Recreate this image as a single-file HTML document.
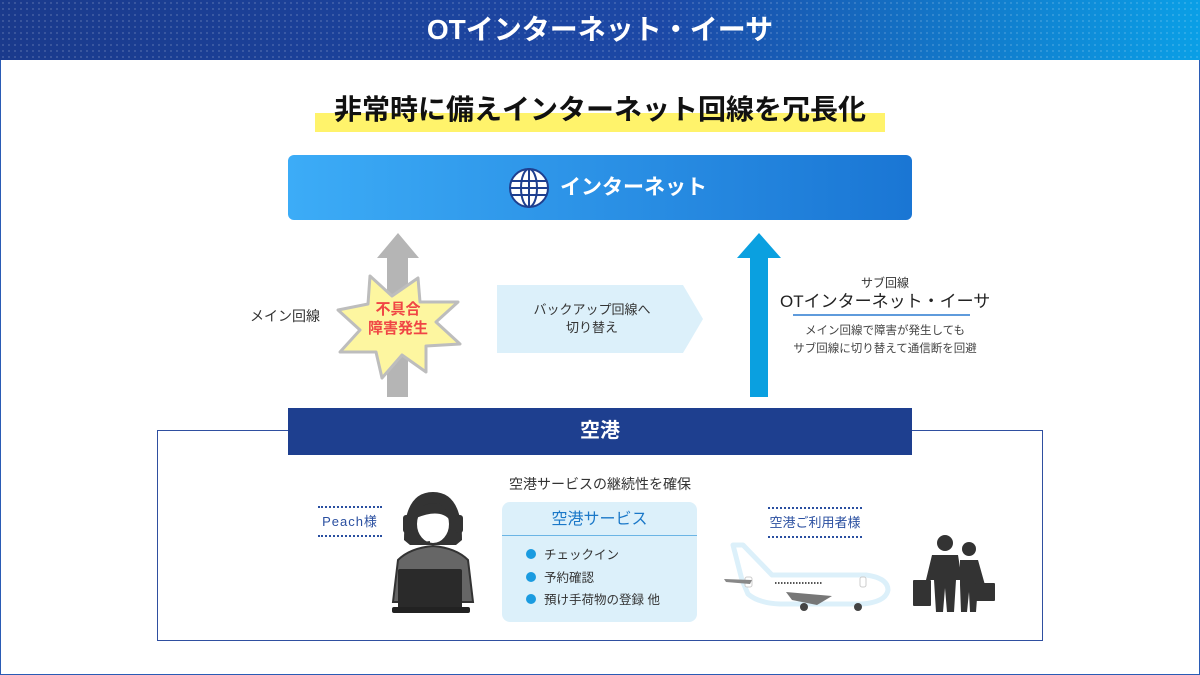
<!DOCTYPE html>
<html><head><meta charset="utf-8"><style>
*{margin:0;padding:0;box-sizing:border-box}
body{width:1200px;height:675px;position:relative;background:#fff;font-family:"Liberation Sans","Noto Sans CJK JP",sans-serif;overflow:hidden;color:#333}
.a{position:absolute}
.frame{left:0;top:0;width:1200px;height:675px;border:1px solid #2a5bb5}
.hdr{left:0;top:0;width:1200px;height:60px;background:linear-gradient(90deg,#1a3a8c 0%,#1c48a6 55%,#0a9fe6 100%);color:#fff;font-size:28px;font-weight:bold;text-align:center;line-height:60px}
.dots{left:0;top:0;width:1200px;height:60px;background-image:radial-gradient(rgba(255,255,255,.18) 0.8px,transparent 1px);background-size:6px 6px}
.c{text-align:center;white-space:nowrap}
</style></head><body>
<div class="a frame"></div>
<div class="a hdr"></div><div class="a dots"></div>
<div class="a hdr" style="background:none">OTインターネット・イーサ</div>

<div class="a" style="left:315px;top:113px;width:570px;height:19px;background:#fff36b"></div>
<div class="a c" style="left:0;width:1200px;top:90px;font-size:28px;font-weight:bold;color:#111;line-height:40px">非常時に備えインターネット回線を冗長化</div>

<div class="a" style="left:288px;top:155px;width:624px;height:65px;border-radius:6px;background:linear-gradient(90deg,#3cacf7,#1a76d4)"></div>
<svg class="a" style="left:508px;top:167px" width="42" height="42" viewBox="0 0 42 42"><circle cx="21" cy="21" r="19" fill="#fff" stroke="#1e3f8f" stroke-width="2"/><ellipse cx="21" cy="21" rx="8" ry="19" fill="none" stroke="#1e3f8f" stroke-width="2"/><line x1="21" y1="2" x2="21" y2="40" stroke="#1e3f8f" stroke-width="2"/><line x1="3" y1="14" x2="39" y2="14" stroke="#1e3f8f" stroke-width="2"/><line x1="3" y1="28" x2="39" y2="28" stroke="#1e3f8f" stroke-width="2"/><line x1="2" y1="21" x2="40" y2="21" stroke="#1e3f8f" stroke-width="2"/></svg>
<div class="a" style="left:560px;top:174px;font-size:21px;font-weight:bold;color:#fff;line-height:28px">インターネット</div>

<svg class="a" style="left:0;top:0" width="1200" height="675">
<polygon points="387,258 377,258 398,233 419,258 408,258 408,397 387,397" fill="#b5b5b5"/>
<polygon points="737,258 759,233 781,258 768,258 768,397 750,397 750,258" fill="#0aa0e0"/>
<polygon points="497,285 683,285 703,319 683,353 497,353" fill="#dcf0fa"/>
<polygon points="370,276 392,296 418,278 420,302 458,302 436,322 460,344 426,346 426,372 402,355 382,378 376,352 340,352 360,330 338,310 368,304" fill="#fdf6a0" stroke="#bdbdbd" stroke-width="3" stroke-linejoin="round"/>
<line x1="793" y1="315" x2="970" y2="315" stroke="#2a7ad0" stroke-width="1.5"/>
</svg>
<div class="a c" style="left:358px;width:80px;top:300px;font-size:15px;font-weight:bold;color:#f04545;line-height:19px">不具合<br>障害発生</div>
<div class="a" style="left:250px;top:306px;font-size:14px;line-height:20px">メイン回線</div>
<div class="a c" style="left:497px;width:190px;top:301px;font-size:13px;line-height:18px">バックアップ回線へ<br>切り替え</div>
<div class="a c" style="left:780px;width:210px;top:275px;font-size:12px;line-height:16px">サブ回線</div>
<div class="a c" style="left:780px;width:210px;top:291px;font-size:17px;line-height:22px;color:#222">OTインターネット・イーサ</div>
<div class="a c" style="left:770px;width:230px;top:322px;font-size:11.5px;line-height:18px;color:#444">メイン回線で障害が発生しても<br>サブ回線に切り替えて通信断を回避</div>

<div class="a" style="left:157px;top:430px;width:886px;height:211px;border:1px solid #2f4fa0"></div>
<div class="a c" style="left:288px;top:408px;width:624px;height:47px;background:#1e3f8f;color:#fff;font-size:20px;font-weight:bold;line-height:47px">空港</div>

<div class="a c" style="left:450px;width:300px;top:474px;font-size:14px;line-height:20px">空港サービスの継続性を確保</div>
<div class="a" style="left:502px;top:502px;width:195px;height:120px;border-radius:8px;background:#dcf0fa"></div>
<div class="a c" style="left:502px;width:195px;top:509px;font-size:16px;color:#1a78c8;line-height:22px">空港サービス</div>
<div class="a" style="left:502px;top:535px;width:195px;height:1px;background:#6bb5e5"></div>
<div class="a" style="left:526px;top:544px;font-size:12.5px;line-height:22.5px">
<div><span style="display:inline-block;width:10px;height:10px;border-radius:50%;background:#1a9be0;margin-right:8px"></span>チェックイン</div>
<div><span style="display:inline-block;width:10px;height:10px;border-radius:50%;background:#1a9be0;margin-right:8px"></span>予約確認</div>
<div><span style="display:inline-block;width:10px;height:10px;border-radius:50%;background:#1a9be0;margin-right:8px"></span>預け手荷物の登録 他</div>
</div>

<div class="a c" style="left:318px;top:506px;width:64px;height:31px;border-top:2px dotted #2a4fa0;border-bottom:2px dotted #2a4fa0;font-size:13px;color:#2a4fa0;line-height:27px;letter-spacing:1px">Peach様</div>
<div class="a c" style="left:768px;top:507px;width:94px;height:31px;border-top:2px dotted #2a4fa0;border-bottom:2px dotted #2a4fa0;font-size:13px;color:#2a4fa0;line-height:27px">空港ご利用者様</div>

<svg class="a" style="left:0;top:0" width="1200" height="675">
<!-- operator -->
<path d="M404 540 Q404 492 433 492 Q462 492 462 540 L456 545 L410 545Z" fill="#333"/>
<ellipse cx="433" cy="524" rx="17" ry="20" fill="#fff" stroke="#333" stroke-width="2"/>
<path d="M416 518 Q420 500 440 504 Q448 510 450 520 Q440 508 416 518Z" fill="#333"/>
<rect x="403" y="515" width="8" height="18" rx="3" fill="#333"/><rect x="455" y="515" width="8" height="18" rx="3" fill="#333"/>
<path d="M410 530 Q415 545 430 542" stroke="#333" stroke-width="2" fill="none"/>
<path d="M393 602 L398 560 Q410 548 433 546 Q456 548 468 560 L473 602Z" fill="#666" stroke="#333" stroke-width="2"/>
<rect x="398" y="569" width="64" height="40" rx="2" fill="#2a2a2a"/>
<rect x="392" y="607" width="78" height="6" rx="2" fill="#222"/>
<!-- plane -->
<path d="M733 545 L743 545 L772 575 L866 575 Q888 578 888 590 Q886 602 862 604 L780 604 Q758 603 748 594 L742 580Z" fill="#fff" stroke="#dcf0fa" stroke-width="5" stroke-linejoin="round"/>
<rect x="745" y="577" width="7" height="10" rx="2" fill="#fff" stroke="#ccc"/>
<rect x="860" y="577" width="6" height="10" rx="2" fill="#fff" stroke="#ccc"/>
<path d="M724 579 L752 580 L750 584 L726 582Z" fill="#888"/>
<path d="M786 592 L832 596 L817 605 L792 600Z" fill="#777"/>
<line x1="775" y1="583" x2="822" y2="583" stroke="#555" stroke-width="2" stroke-dasharray="1.5 1.5"/>
<circle cx="804" cy="607" r="4" fill="#444"/><circle cx="858" cy="607" r="4" fill="#444"/>
<!-- travellers -->
<circle cx="945" cy="543" r="8" fill="#333"/><circle cx="969" cy="549" r="7" fill="#333"/>
<path d="M932 555 L958 555 L962 580 L956 580 L954 612 L947 612 L945 588 L943 612 L936 612 L934 580 L926 580Z" fill="#333"/>
<path d="M960 560 L978 560 L985 585 L978 585 L976 612 L970 612 L969 592 L967 612 L961 612 L960 585Z" fill="#333"/>
<rect x="913" y="580" width="18" height="26" rx="1" fill="#333"/>
<rect x="975" y="583" width="20" height="18" rx="1" fill="#333"/>
</svg>
</body></html>
